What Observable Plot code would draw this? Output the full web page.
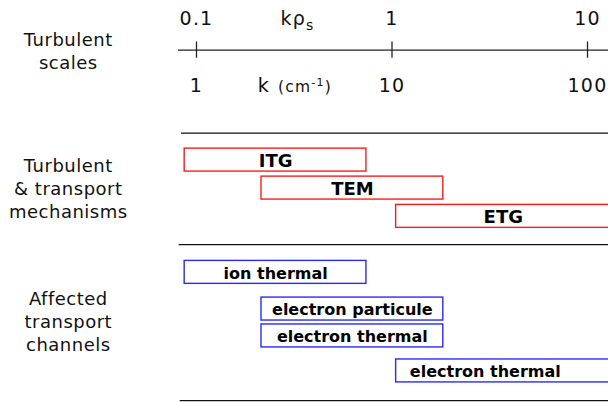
<!DOCTYPE html>
<html><head><meta charset="utf-8">
<script src="https://cdn.jsdelivr.net/npm/d3@7"></script>
<script src="https://cdn.jsdelivr.net/npm/@observablehq/plot@0.6"></script>
<style>html,body{margin:0;padding:0;background:#fff}</style>
</head><body><div id="chart"></div>
<script>
// ---- data ----
const kTicks = [1, 10, 100];                       // k (cm^-1)
const kTickLabels = ["1", "10", "100"];
const kRhoTickLabels = ["0.1", "1", "10"];         // k rho_s
const mechanisms = ["ITG", "TEM", "ETG"];
const mechKMin = [0.87, 2.15, 10.5];
const mechKMax = [7.4, 18.3, 131];
const channels = ["ion thermal", "electron particule", "electron thermal", "electron thermal"];
const chanKMin = [0.87, 2.15, 2.15, 10.5];
const chanKMax = [7.4, 18.3, 18.3, 131];
const chanLabelK = [2.54, 6.27, 6.27, 30];
const groupLabels = ["Turbulent\nscales", "Turbulent\n& transport\nmechanisms", "Affected\ntransport\nchannels"];
const groupLabelK = 0.221;

// ---- layout (lanes in row units) ----
const axisLane = 1.77, topLabelLane = 0.66, bottomLabelLane = 3.04;
const mechLane = [5.70, 6.70, 7.71];
const chanLane = [9.71, 11.02, 11.98, 13.23];
const groupLane = [1.78, 6.69, 11.44];
const sepLane = [4.74, 8.72, 14.29];
const sepK1 = [0.838, 0.815, 0.825];
const half = 0.41;

const mechData = mechanisms.map((m, i) => ({name: m, k1: mechKMin[i], k2: mechKMax[i], lane: mechLane[i]}));
const chanData = channels.map((c, i) => ({name: c, k1: chanKMin[i], k2: chanKMax[i], lane: chanLane[i], kl: chanLabelK[i]}));
const sepData = sepLane.map((l, i) => ({lane: l, k1: sepK1[i], k2: 200}));
const axisData = [{lane: axisLane, k1: 0.809, k2: 200}];
const tickData = kTicks.map((k, i) => ({k, top: kRhoTickLabels[i], bottom: kTickLabels[i]}));
const groupData = groupLabels.map((g, i) => ({g, lane: groupLane[i], k: groupLabelK}));
const titleData = [{k: 2.69, lane: topLabelLane, t: "kρs"}, {k: 2.06, lane: bottomLabelLane, t: "k (cm-1)"}];

const font = "DejaVu Sans";
const red = "#ff1a1a", blue = "#2a2af5";

const chart = Plot.plot({
  width: 608, height: 402, margin: 0,
  x: {type: "log", domain: [1, 100], range: [196, 587], axis: null},
  y: {domain: [0, 402 / 28], range: [0, 402], axis: null},
  style: {fontFamily: font, background: "white", color: "black"},
  marks: [
    // axis
    Plot.ruleY(axisData, {y: "lane", x1: "k1", x2: "k2", stroke: "#222", strokeWidth: 1.3}),
    Plot.ruleX(tickData, {x: "k", y1: () => axisLane - 0.29, y2: () => axisLane + 0.29, stroke: "#222", strokeWidth: 1.3}),
    Plot.text(tickData, {x: "k", y: () => topLabelLane, text: "top", fontSize: 19, fill: "#111"}),
    Plot.text(tickData, {x: "k", y: () => bottomLabelLane, text: "bottom", fontSize: 19, fill: "#111"}),
    Plot.text(titleData, {x: "k", y: "lane", text: "t", fontSize: 19, textAnchor: "start", fill: "#111"}),
    // separators
    Plot.ruleY(sepData, {y: "lane", x1: "k1", x2: "k2", stroke: "#111", strokeWidth: 1.3}),
    // mechanisms
    Plot.rect(mechData, {x1: "k1", x2: "k2", y1: d => d.lane - half, y2: d => d.lane + half, fill: "white", stroke: red, strokeWidth: 1.4}),
    Plot.text(mechData, {x: d => Math.sqrt(d.k1 * d.k2), y: "lane", text: "name", fontSize: 18, fontWeight: "bold", dy: 1, fill: "#000"}),
    // channels
    Plot.rect(chanData, {x1: "k1", x2: "k2", y1: d => d.lane - half, y2: d => d.lane + half, fill: "white", stroke: blue, strokeWidth: 1.4}),
    Plot.text(chanData, {x: "kl", y: "lane", text: "name", fontSize: 16, fontWeight: "bold", dy: 1, fill: "#000"}),
    // group labels
    Plot.text(groupData, {x: "k", y: "lane", text: "g", fontSize: 18, lineHeight: 1.27, fill: "#111"})
  ]
});
document.getElementById("chart").appendChild(chart);

// rich text for axis titles
d3.select(chart).selectAll("text").each(function() {
  const t = this.textContent;
  const sel = d3.select(this);
  if (t === "kρs") {
    sel.text(null);
    sel.append("tspan").text("kρ");
    sel.append("tspan").attr("font-size", 14).attr("dy", 5).text("s");
  } else if (t === "k (cm-1)") {
    sel.text(null);
    sel.append("tspan").text("k");
    sel.append("tspan").attr("font-size", 15.5).attr("dx", 8).text("(cm");
    sel.append("tspan").attr("font-size", 11).attr("dy", -6).text("-1");
    sel.append("tspan").attr("font-size", 15.5).attr("dy", 6).text(")");
  }
});
d3.select(chart).selectAll("g[font-size='19']").attr("letter-spacing", 1.2);
d3.select(chart).selectAll("g[font-size='18']").filter(function() { return this.getAttribute("font-weight") !== "bold"; }).attr("letter-spacing", 0.5);
</script>
</body></html>
